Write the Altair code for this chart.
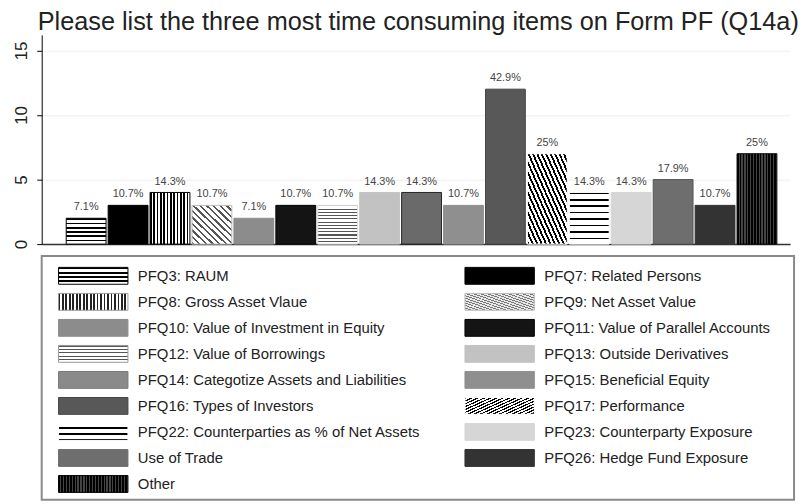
import altair as alt
import pandas as pd

# ---------------- data ----------------
items = [
    "PFQ3: RAUM", "PFQ7: Related Persons", "PFQ8: Gross Asset Vlaue", "PFQ9: Net Asset Value",
    "PFQ10: Value of Investment in Equity", "PFQ11: Value of Parallel Accounts",
    "PFQ12: Value of Borrowings", "PFQ13: Outside Derivatives",
    "PFQ14: Categotize Assets and Liabilities", "PFQ15: Beneficial Equity",
    "PFQ16: Types of Investors", "PFQ17: Performance",
    "PFQ22: Counterparties as % of Net Assets", "PFQ23: Counterparty Exposure",
    "Use of Trade", "PFQ26: Hedge Fund Exposure", "Other",
]
counts = [2, 3, 4, 3, 2, 3, 3, 4, 4, 3, 12, 7, 4, 4, 5, 3, 7]
pct_labels = ["7.1%", "10.7%", "14.3%", "10.7%", "7.1%", "10.7%", "10.7%", "14.3%", "14.3%",
              "10.7%", "42.9%", "25%", "14.3%", "14.3%", "17.9%", "10.7%", "25%"]
y_ticks = [0, 5, 10, 15]
title_text = "Please list the three most time consuming items on Form PF (Q14a)"

df = pd.DataFrame({"idx": list(range(len(items))), "item": items, "count": counts, "pct": pct_labels})
df["row"] = df["idx"] // 2
df["col"] = df["idx"] % 2

FONT = "Liberation Sans"


# ---------------- pattern helpers (linear gradients used as stripe fills) ----------------
def stripes(n, on, off, duty, direction):
    coords = {"h": (0, 0, 0, 1), "v": (0, 0, 1, 0), "bs": (0, 1, 1, 0), "fs": (0, 0, 1, 1)}[direction]
    stops = []
    for i in range(n):
        a = round(i / n, 4)
        b = round((i + duty) / n, 4)
        c = round((i + 1) / n, 4)
        stops += [{"offset": a, "color": on}, {"offset": b, "color": on},
                  {"offset": b, "color": off}, {"offset": c, "color": off}]
    x1, y1, x2, y2 = coords
    return {"gradient": "linear", "x1": x1, "y1": y1, "x2": x2, "y2": y2, "stops": stops}


# (bar fill, bar stroke, legend fill, legend stroke)
styles = [
    (stripes(6, "#000000", "#ffffff", 0.38, "h"), "#000000", stripes(4, "#000000", "#ffffff", 0.45, "h"), "#000000"),
    ("#000000", "#000000", "#000000", "#000000"),
    (stripes(12, "#000000", "#ffffff", 0.5, "v"), "#000000", stripes(20, "#222222", "#ffffff", 0.5, "v"), "#999999"),
    (stripes(12, "#555555", "#ffffff", 0.35, "bs"), "#bbbbbb", stripes(20, "#777777", "#e8e8e8", 0.4, "fs"), "#bbbbbb"),
    ("#8c8c8c", "#8c8c8c", "#8c8c8c", "#8c8c8c"),
    ("#141414", "#000000", "#141414", "#000000"),
    (stripes(12, "#555555", "#ffffff", 0.35, "h"), "#dddddd", stripes(5, "#555555", "#ffffff", 0.35, "h"), "#999999"),
    ("#c2c2c2", "#c2c2c2", "#c2c2c2", "#c2c2c2"),
    ("#6a6a6a", "#222222", "#8a8a8a", "#777777"),
    ("#8f8f8f", "#8f8f8f", "#8f8f8f", "#8f8f8f"),
    ("#585858", "#444444", "#585858", "#444444"),
    (stripes(18, "#000000", "#ffffff", 0.45, "bs"), "#ffffff", stripes(22, "#000000", "#ffffff", 0.45, "bs"), "#ffffff"),
    (stripes(8, "#000000", "#ffffff", 0.25, "h"), "#ffffff", stripes(3, "#ffffff", "#000000", 0.7, "h"), "#ffffff"),
    ("#d6d6d6", "#d6d6d6", "#d6d6d6", "#d6d6d6"),
    ("#6e6e6e", "#555555", "#6e6e6e", "#6e6e6e"),
    ("#333333", "#333333", "#333333", "#333333"),
    (stripes(14, "#000000", "#444444", 0.55, "v"), "#000000", stripes(24, "#000000", "#444444", 0.55, "v"), "#000000"),
]

# ---------------- bar chart ----------------
base = alt.Chart(df).encode(
    x=alt.X("item:N", sort=items,
            scale=alt.Scale(domain=items, paddingInner=0.05, paddingOuter=0.45, align=0.65),
            axis=alt.Axis(labels=False, ticks=False, title=None, grid=False,
                          domainColor="#333333", domainWidth=1.5)),
    y=alt.Y("count:Q", scale=alt.Scale(domain=[0, 16.2], nice=False, zero=True),
            axis=alt.Axis(values=y_ticks, title=None, labelAngle=270, labelFontSize=17,
                          labelFont=FONT, labelColor="#222222", tickSize=5, tickColor="#000000",
                          domainColor="#000000", grid=True, gridColor="#eeeeee",
                          labelPadding=6, minExtent=34, maxExtent=34)),
)

bar_layers = []
for i, (bf, bs, lf, ls) in enumerate(styles):
    bar_layers.append(
        base.transform_filter(alt.datum.idx == i).mark_bar(fill=bf, stroke=bs, strokeWidth=1)
    )

labels = base.mark_text(baseline="bottom", dy=-6, fontSize=11, font=FONT, fill="#444444").encode(
    text="pct:N")

bars = alt.layer(*bar_layers, labels).properties(width=755, height=211)

# ---------------- legend ----------------
rect_path = "M-1,-0.243H1V0.243H-1Z"
lbase = alt.Chart(df).encode(
    x=alt.X("col:O", scale=alt.Scale(type="point", range=[52, 462], padding=0), axis=None),
    y=alt.Y("row:O", scale=alt.Scale(type="point", range=[20, 230], padding=0), axis=None),
)
leg_layers = []
for i, (bf, bs, lf, ls) in enumerate(styles):
    leg_layers.append(
        lbase.transform_filter(alt.datum.idx == i).mark_point(
            shape=rect_path, size=4900, filled=True, fill=lf, stroke=ls, strokeWidth=1, opacity=1)
    )
leg_text = lbase.mark_text(align="left", baseline="middle", dx=45, fontSize=15, font=FONT,
                           fill="#222222").encode(text="item:N")

legend = alt.layer(*leg_layers, leg_text).properties(
    width=759, height=246, view=alt.ViewBackground(stroke="#8a8a8a", strokeWidth=2))

chart = alt.vconcat(bars, legend, spacing=6).properties(
    title=alt.TitleParams(title_text, anchor="start", fontSize=25.5, font=FONT, fontWeight="normal",
                          color="#222222", offset=-1, dx=30),
    padding={"left": 0, "top": 0, "right": 0, "bottom": 0},
).configure_view(stroke=None)

chart.save("out.html", embed_options={"renderer": "svg", "actions": False})
